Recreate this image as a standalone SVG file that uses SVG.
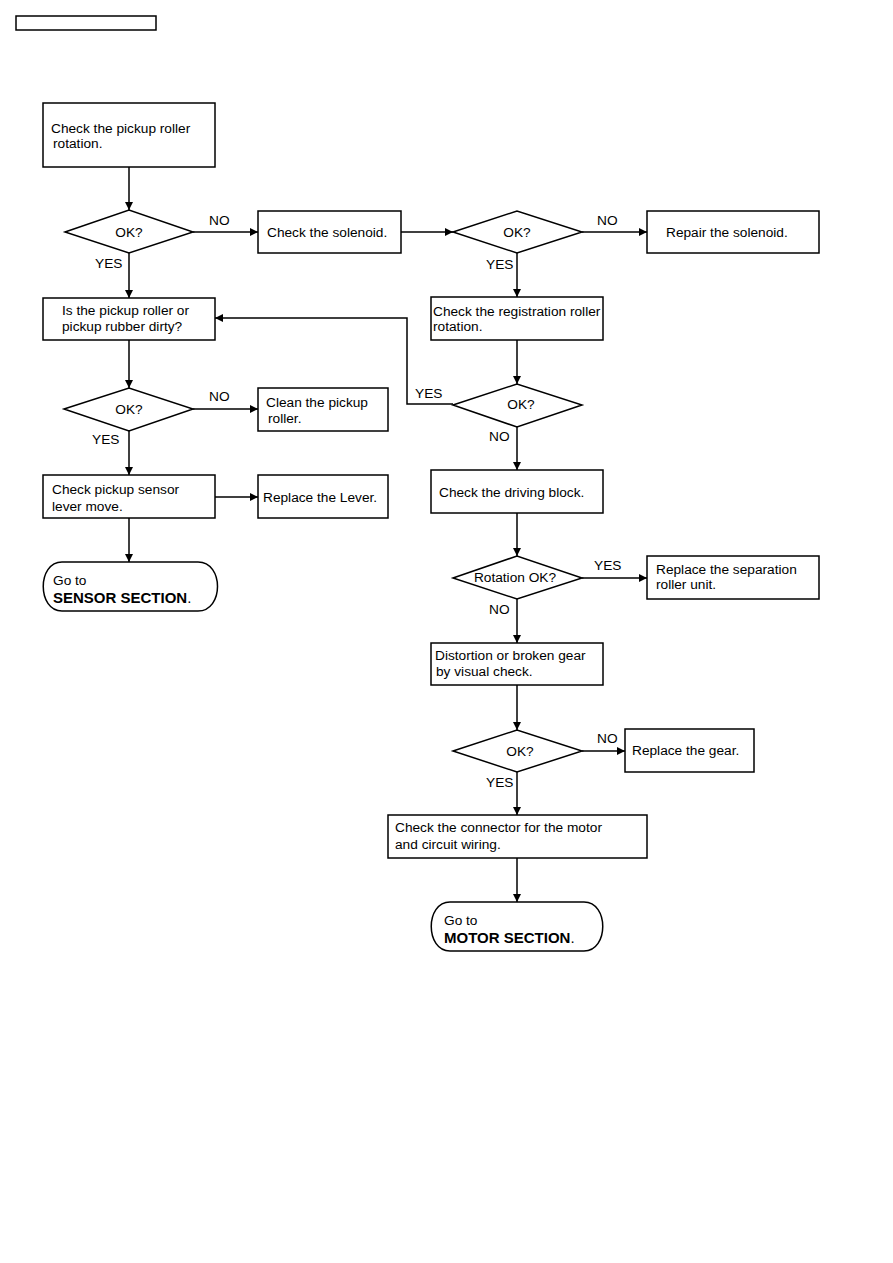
<svg xmlns="http://www.w3.org/2000/svg" width="893" height="1263" viewBox="0 0 893 1263">
<defs>
<marker id="ah" viewBox="0 0 10 10" refX="10" refY="5" markerWidth="9" markerHeight="8" markerUnits="userSpaceOnUse" orient="auto">
<path d="M0,0 L10,5 L0,10 Z" fill="#000"/>
</marker>
<style>
.b{fill:#fff;stroke:#000;stroke-width:1.5}
.t{font-family:"Liberation Sans",Arial,sans-serif;font-size:13.7px;fill:#000}
.bold{font-weight:bold;font-size:15px}
.c{fill:none;stroke:#000;stroke-width:1.5}
.a{marker-end:url(#ah)}
.m{text-anchor:middle}
</style>
</defs>
<rect fill="#fff" width="893" height="1263"/>
<rect x="16" y="16" width="140" height="14" class="b" stroke-width="1.2"/>

<g id="connectors">
<line class="c a" x1="129" y1="167" x2="129" y2="210"/>
<line class="c a" x1="193" y1="232" x2="258" y2="232"/>
<line class="c a" x1="401" y1="232" x2="453" y2="232"/>
<line class="c a" x1="582" y1="232" x2="647" y2="232"/>
<line class="c a" x1="129" y1="253" x2="129" y2="298"/>
<line class="c a" x1="517" y1="253" x2="517" y2="297"/>
<line class="c a" x1="517" y1="340" x2="517" y2="384"/>
<polyline class="c a" points="453,404 407,404 407,318 215,318"/>
<line class="c a" x1="517" y1="427" x2="517" y2="470"/>
<line class="c a" x1="517" y1="513" x2="517" y2="556"/>
<line class="c a" x1="582" y1="578" x2="647" y2="578"/>
<line class="c a" x1="517" y1="599" x2="517" y2="643"/>
<line class="c a" x1="517" y1="685" x2="517" y2="730"/>
<line class="c a" x1="582" y1="751" x2="625" y2="751"/>
<line class="c a" x1="517" y1="772" x2="517" y2="815"/>
<line class="c a" x1="517" y1="858" x2="517" y2="902"/>
<line class="c a" x1="129" y1="340" x2="129" y2="388"/>
<line class="c a" x1="193" y1="409" x2="258" y2="409"/>
<line class="c a" x1="129" y1="431" x2="129" y2="475"/>
<line class="c a" x1="215" y1="497" x2="258" y2="497"/>
<line class="c a" x1="129" y1="518" x2="129" y2="562"/>
<text class="t" x="209" y="225">NO</text>
<text class="t" x="95" y="268">YES</text>
<text class="t" x="597" y="225">NO</text>
<text class="t" x="486" y="269">YES</text>
<text class="t" x="415" y="398">YES</text>
<text class="t" x="489" y="441">NO</text>
<text class="t" x="594" y="570">YES</text>
<text class="t" x="489" y="614">NO</text>
<text class="t" x="597" y="743">NO</text>
<text class="t" x="486" y="787">YES</text>
<text class="t" x="209" y="401">NO</text>
<text class="t" x="92" y="444">YES</text>
</g>

<g id="n1"><rect class="b" x="43" y="103" width="172" height="64"/>
<text class="t" x="51" y="133">Check the pickup roller</text><text class="t" x="53" y="148">rotation.</text></g>
<g id="d1"><polygon class="b" points="65,232 129,210 193,232 129,253"/><text class="t m" x="129" y="237">OK?</text></g>
<g id="n2"><rect class="b" x="258" y="211" width="143" height="42"/><text class="t" x="267" y="237">Check the solenoid.</text></g>
<g id="d2"><polygon class="b" points="453,232 517,211 582,232 517,253"/><text class="t m" x="517" y="237">OK?</text></g>
<g id="n3"><rect class="b" x="647" y="211" width="172" height="42"/><text class="t" x="666" y="237">Repair the solenoid.</text></g>
<g id="n4"><rect class="b" x="43" y="298" width="172" height="42"/>
<text class="t" x="62" y="315">Is the pickup roller or</text><text class="t" x="62" y="331">pickup rubber dirty?</text></g>
<g id="n5"><rect class="b" x="431" y="297" width="172" height="43"/>
<text class="t" x="433" y="316">Check the registration roller</text><text class="t" x="433" y="331">rotation.</text></g>
<g id="d3"><polygon class="b" points="453,405 517,384 582,405 517,427"/><text class="t m" x="521" y="409">OK?</text></g>
<g id="d6"><polygon class="b" points="64,409 129,388 193,409 129,431"/><text class="t m" x="129" y="414">OK?</text></g>
<g id="n6"><rect class="b" x="258" y="388" width="130" height="43"/>
<text class="t" x="266" y="407">Clean the pickup</text><text class="t" x="268" y="423">roller.</text></g>
<g id="n7"><rect class="b" x="43" y="475" width="172" height="43"/>
<text class="t" x="52" y="494">Check pickup sensor</text><text class="t" x="52" y="511">lever move.</text></g>
<g id="n8"><rect class="b" x="258" y="475" width="130" height="43"/><text class="t" x="263" y="502">Replace the Lever.</text></g>
<g id="t1"><path class="b" d="M62,562 H198 C224,562 224,611 198,611 H62 C37,611 37,562 62,562 Z"/>
<text class="t" x="53" y="585">Go to</text><text class="t bold" x="53" y="603">SENSOR SECTION<tspan font-weight="normal">.</tspan></text></g>
<g id="n9"><rect class="b" x="431" y="470" width="172" height="43"/><text class="t" x="439" y="497">Check the driving block.</text></g>
<g id="d4"><polygon class="b" points="453,578 517,556 582,578 517,599"/><text class="t m" x="515" y="582">Rotation OK?</text></g>
<g id="n10"><rect class="b" x="647" y="556" width="172" height="43"/>
<text class="t" x="656" y="574">Replace the separation</text><text class="t" x="656" y="589">roller unit.</text></g>
<g id="n11"><rect class="b" x="431" y="643" width="172" height="42"/>
<text class="t" x="435" y="660">Distortion or broken gear</text><text class="t" x="436" y="676">by visual check.</text></g>
<g id="d5"><polygon class="b" points="453,751 517,730 582,751 517,772"/><text class="t m" x="520" y="756">OK?</text></g>
<g id="n12"><rect class="b" x="625" y="729" width="129" height="43"/><text class="t" x="632" y="755">Replace the gear.</text></g>
<g id="n13"><rect class="b" x="388" y="815" width="259" height="43"/>
<text class="t" x="395" y="832">Check the connector for the motor</text><text class="t" x="395" y="849">and circuit wiring.</text></g>
<g id="t2"><path class="b" d="M450,902 H584 C609,902 609,951 584,951 H450 C425,951 425,902 450,902 Z"/>
<text class="t" x="444" y="925">Go to</text><text class="t bold" x="444" y="943">MOTOR SECTION<tspan font-weight="normal">.</tspan></text></g>
</svg>
